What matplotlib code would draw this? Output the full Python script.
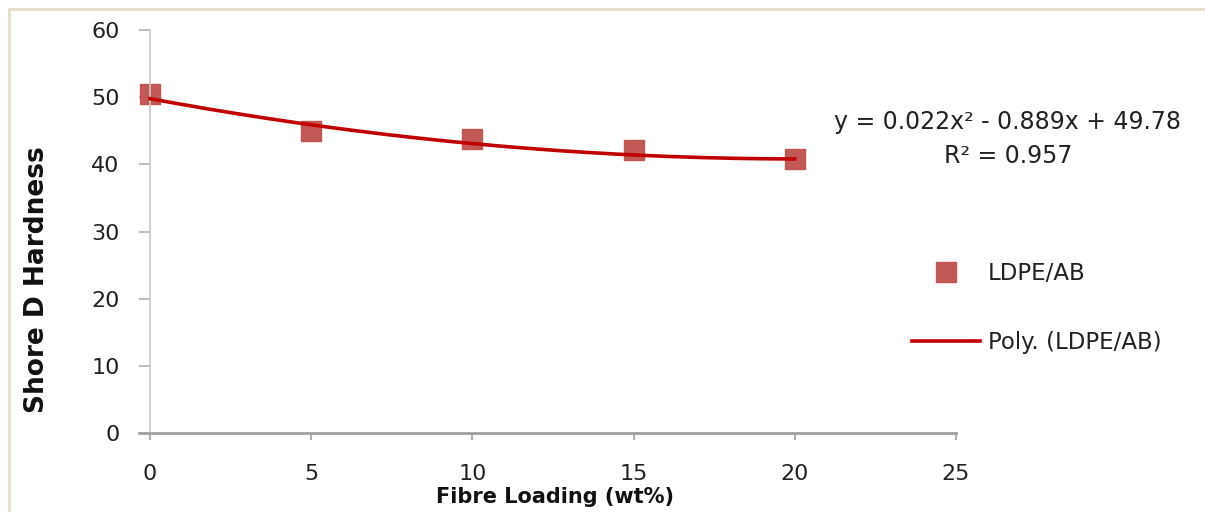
import numpy as np
import matplotlib.pyplot as plt
from matplotlib.patches import Rectangle

# Data
fibre_loading = [0, 5, 10, 15, 20]
hardness = [50.4, 44.9, 43.8, 42.1, 40.8]

# Trendline coefficients shown on the chart (a*x^2 + b*x + c)
poly_coef = [0.022, -0.889, 49.78]
r_squared = 0.957

x_ticks = [0, 5, 10, 15, 20, 25]
y_ticks = [0, 10, 20, 30, 40, 50, 60]

marker_color = "#c0504d"
line_color = "#c00000"
text_color = "#222222"

fig = plt.figure(figsize=(12.05, 5.12), dpi=100)
fig.patch.set_facecolor("white")

# beige frame around the chart area
fig.patches.append(Rectangle((9 / 1205, -0.1), 1.2, 1 - 9 / 512 + 0.1,
                             transform=fig.transFigure, fill=False,
                             edgecolor="#e4dfcc", linewidth=2.2))

ax = fig.add_axes([150 / 1205, 1 - 433 / 512, (956 - 150) / 1205, (433 - 30) / 512])

x_fit = np.linspace(0, 20, 200)
y_fit = np.polyval(poly_coef, x_fit)

ax.plot(fibre_loading, hardness, linestyle="none", marker="s", markersize=14,
        color=marker_color, alpha=0.95, label="LDPE/AB", zorder=2, clip_on=False)
ax.plot(x_fit, y_fit, color=line_color, linewidth=2.6,
        label="Poly. (LDPE/AB)", zorder=3, clip_on=False)

ax.set_xlim(0, 25)
ax.set_ylim(0, 60)
ax.set_xticks(x_ticks)
ax.set_yticks(y_ticks)

for s in ["top", "right"]:
    ax.spines[s].set_visible(False)
ax.spines["left"].set_color("#c8c8c8")
ax.spines["left"].set_linewidth(1.2)
ax.spines["bottom"].set_color("#a0a0a0")
ax.spines["bottom"].set_linewidth(2.0)
ax.spines["bottom"].set_bounds(-0.35, 25)
ax.spines["bottom"].set_clip_on(False)

ax.tick_params(axis="y", direction="out", length=8, width=1.2, color="#b0b0b0",
               pad=14, labelsize=16, labelcolor=text_color)
ax.tick_params(axis="x", direction="out", length=5, width=1.5, color="#b0b0b0",
               pad=17, labelsize=16, labelcolor=text_color)

ax.set_ylabel("Shore D Hardness", fontsize=19, fontweight="bold", color="#111111")
ax.yaxis.set_label_coords(-0.124, 0.38)
ax.set_xlabel("Fibre Loading (wt%)", fontsize=15, fontweight="bold", color="#111111")
ax.xaxis.set_label_coords(0.503, -0.135)

eq_text = (f"y = {poly_coef[0]:.3f}x\u00b2 - {abs(poly_coef[1]):.3f}x + {poly_coef[2]:.2f}\n"
           f"R\u00b2 = {r_squared:.3f}")
fig.text(1008 / 1205, 1 - 139 / 512, eq_text, ha="center", va="center",
         fontsize=17, color=text_color, linespacing=1.5)

leg = ax.legend(loc="center left", bbox_to_anchor=(0.945, 0.31), frameon=False,
                fontsize=16.5, labelspacing=2.0, handlelength=2.96,
                handletextpad=0.35, borderaxespad=0, borderpad=0)
for t in leg.get_texts():
    t.set_color(text_color)

fig.savefig("out.png", dpi=100)
